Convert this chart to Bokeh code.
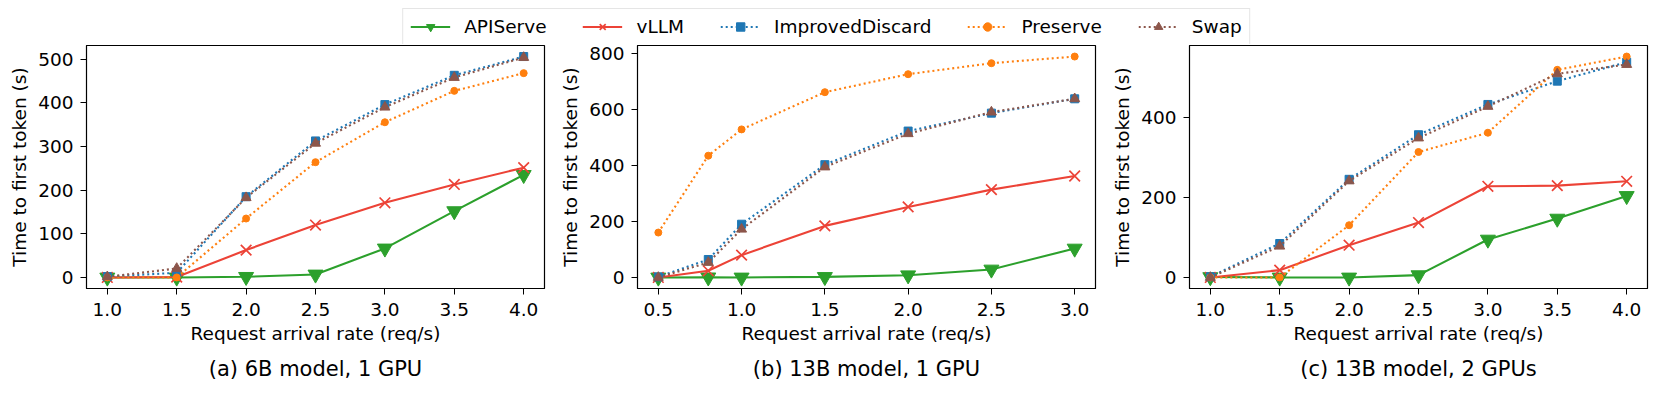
from bokeh.plotting import figure
from bokeh.models import Range1d, FixedTicker, Legend, LegendItem, Title
from bokeh.layouts import column, row
from bokeh.embed import file_html
from bokeh.resources import INLINE

FONT = "DejaVu Sans"

series_names = ["APIServe", "vLLM", "ImprovedDiscard", "Preserve", "Swap"]

# (a) 6B model, 1 GPU
rate_a = [1.0, 1.5, 2.0, 2.5, 3.0, 3.5, 4.0]
apiserve_a = [0, 0, 1.5, 6.9, 66.5, 152, 235]
vllm_a = [0, 1, 62.7, 120, 171, 213, 251.5]
improved_a = [2, 10.7, 185, 312.7, 396, 463, 506]
preserve_a = [0, 0, 135, 264, 355.5, 427.4, 468]
swap_a = [1.5, 20.6, 182.7, 307.3, 390, 458, 503.8]

# (b) 13B model, 1 GPU
rate_b = [0.5, 0.8, 1.0, 1.5, 2.0, 2.5, 3.0]
apiserve_b = [0, 0.5, 0, 2, 8, 28.6, 103.6]
vllm_b = [0, 23.8, 79.8, 184.5, 252.4, 314.3, 363]
improved_b = [2, 64.3, 190.5, 403.6, 523.8, 588, 639.3]
preserve_b = [160.7, 435.7, 529.8, 663, 727.4, 766.7, 790.5]
swap_b = [0, 53.6, 172.6, 395.2, 514.3, 591.7, 639.3]

# (c) 13B model, 2 GPUs
rate_c = [1.0, 1.5, 2.0, 2.5, 3.0, 3.5, 4.0]
apiserve_c = [1, 0, 0, 5.8, 95, 147.5, 204.2]
vllm_c = [0, 18.3, 80.8, 137.5, 228.3, 230, 240.8]
improved_c = [1.7, 85, 245.8, 357.5, 433.3, 491.7, 539.2]
preserve_c = [0, 0, 130.8, 314.2, 362.5, 520, 553.3]
swap_c = [0, 78.3, 241.7, 349.2, 428.3, 510, 533.3]

xticks_a = [1.0, 1.5, 2.0, 2.5, 3.0, 3.5, 4.0]
xtick_labels_a = ["1.0", "1.5", "2.0", "2.5", "3.0", "3.5", "4.0"]
xticks_b = [0.5, 1.0, 1.5, 2.0, 2.5, 3.0]
xtick_labels_b = ["0.5", "1.0", "1.5", "2.0", "2.5", "3.0"]
xticks_c = xticks_a
xtick_labels_c = xtick_labels_a

yticks_a = [0, 100, 200, 300, 400, 500]
yticks_b = [0, 200, 400, 600, 800]
yticks_c = [0, 200, 400]

titles = ["(a) 6B model, 1 GPU", "(b) 13B model, 1 GPU", "(c) 13B model, 2 GPUs"]
x_label = "Request arrival rate (req/s)"
y_label = "Time to first token (s)"

STYLE = {
    "APIServe": dict(color="#2ca02c", dash="solid", marker="inverted_triangle", size=15),
    "vLLM": dict(color="#ec4337", dash="solid", marker="x", size=15),
    "ImprovedDiscard": dict(color="#1f77b4", dash="2 3", marker="square", size=8),
    "Preserve": dict(color="#ff7f0e", dash="2 3", marker="circle", size=7),
    "Swap": dict(color="#8c564b", dash="2 3", marker="triangle", size=10),
}

TXT = "18.5px"
LEG_H = 44
FRAME_H = 243
FIG_H = 349
TOP = 1


def draw_series(p, x, y, name):
    s = STYLE[name]
    lr = p.line(x, y, line_color=s["color"], line_width=2.1, line_dash=s["dash"])
    if s["marker"] == "x":
        mr = p.scatter(x, y, marker="x", size=s["size"], line_color=s["color"], line_width=1.7)
    else:
        mr = p.scatter(x, y, marker=s["marker"], size=s["size"], fill_color=s["color"],
                       line_color=s["color"], line_width=1)
    return lr, mr


def make_panel(x, ys, xticks, xlabels, yticks, title, width, bl, br):
    xmin, xmax = min(x), max(x)
    allv = [v for yy in ys for v in yy]
    ymin, ymax = min(allv), max(allv)
    xp = (xmax - xmin) * 0.05
    yp = (ymax - ymin) * 0.05
    p = figure(width=width, height=FIG_H, output_backend="svg", toolbar_location=None,
               x_range=Range1d(xmin - xp, xmax + xp), y_range=Range1d(ymin - yp, ymax + yp),
               min_border_left=bl, min_border_right=br, min_border_top=TOP,
               min_border_bottom=FIG_H - TOP - FRAME_H)
    p.grid.visible = False
    p.outline_line_color = "black"
    p.outline_line_width = 1.2
    p.background_fill_color = "white"
    p.border_fill_color = "white"
    for name, yy in zip(series_names, ys):
        draw_series(p, x, yy, name)
    for ax in (p.xaxis[0], p.yaxis[0]):
        ax.axis_line_color = "black"
        ax.major_tick_in = 0
        ax.major_tick_out = 6
        ax.minor_tick_line_color = None
        ax.major_tick_line_color = "black"
        ax.major_label_text_font = FONT
        ax.major_label_text_font_size = TXT
        ax.major_label_text_color = "black"
        ax.axis_label_text_font = FONT
        ax.axis_label_text_font_size = TXT
        ax.axis_label_text_font_style = "normal"
        ax.axis_label_text_color = "black"
    p.xaxis[0].major_label_standoff = 8
    p.yaxis[0].major_label_standoff = 7
    p.xaxis[0].ticker = FixedTicker(ticks=xticks)
    p.xaxis[0].major_label_overrides = {t: l for t, l in zip(xticks, xlabels)}
    p.yaxis[0].ticker = FixedTicker(ticks=yticks)
    p.xaxis[0].axis_label = x_label
    p.yaxis[0].axis_label = y_label
    p.xaxis[0].axis_label_standoff = 4
    p.yaxis[0].axis_label_standoff = 5
    t = Title(text=title, align="center", text_font=FONT, text_font_size="21px",
              text_font_style="normal", text_color="black", standoff=16)
    p.add_layout(t, "below")
    return p


p1 = make_panel(rate_a, [apiserve_a, vllm_a, improved_a, preserve_a, swap_a],
                xticks_a, xtick_labels_a, yticks_a, titles[0], 556, 86, 12)
p2 = make_panel(rate_b, [apiserve_b, vllm_b, improved_b, preserve_b, swap_b],
                xticks_b, xtick_labels_b, yticks_b, titles[1], 552, 81, 13)
p3 = make_panel(rate_c, [apiserve_c, vllm_c, improved_c, preserve_c, swap_c],
                xticks_c, xtick_labels_c, yticks_c, titles[2], 544, 81, 5)

# legend strip on top
lf = figure(width=1652, height=LEG_H, output_backend="svg", toolbar_location=None,
            x_range=Range1d(-100, -99), y_range=Range1d(-100, -99),
            x_axis_type=None, y_axis_type=None, min_border=0)
lf.outline_line_color = None
lf.grid.visible = False
items = []
for name, yy in zip(series_names, [apiserve_a, vllm_a, improved_a, preserve_a, swap_a]):
    lr, mr = draw_series(lf, rate_a, yy, name)
    items.append(LegendItem(label=name, renderers=[lr, mr]))
legend = Legend(items=items, orientation="horizontal", location="top_center", margin=8,
                padding=7, spacing=36, glyph_width=40, glyph_height=21, label_height=21,
                label_standoff=14,
                label_text_font=FONT, label_text_font_size=TXT, label_text_color="black",
                border_line_color="#cccccc", border_line_width=1, background_fill_alpha=0.8)
lf.add_layout(legend, "center")

layout = column(lf, row(p1, p2, p3))
open("out.html", "w").write(file_html(layout, INLINE))
